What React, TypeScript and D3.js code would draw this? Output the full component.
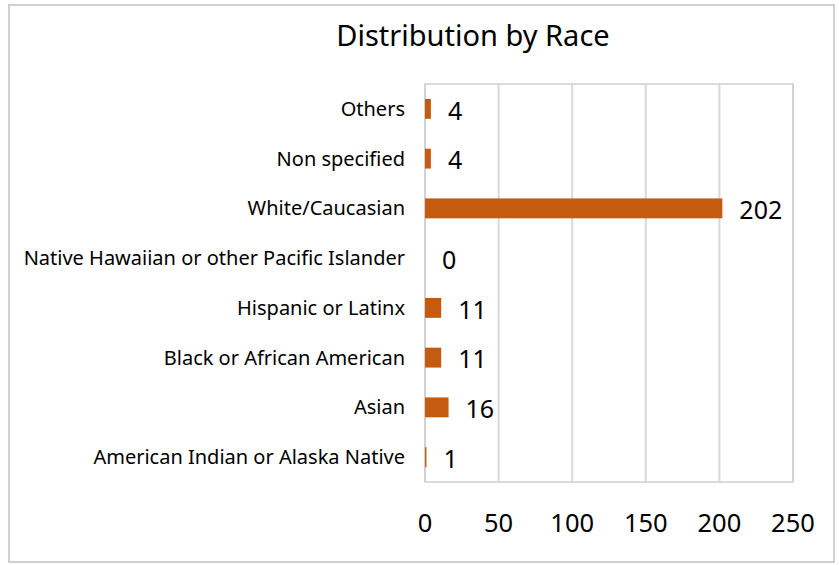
import React from 'react';
import * as d3 from 'd3';

const categories = [
  'Others',
  'Non specified',
  'White/Caucasian',
  'Native Hawaiian or other Pacific Islander',
  'Hispanic or Latinx',
  'Black or African American',
  'Asian',
  'American Indian or Alaska Native',
];
const counts = [4, 4, 202, 0, 11, 11, 16, 1];
const xTicks = [0, 50, 100, 150, 200, 250];

const W = 839;
const H = 565;
const font = "'Noto Sans', 'Open Sans', sans-serif";

export default function App() {
  const x = d3.scaleLinear().domain([0, 250]).range([425, 793]);
  const y = d3.scaleBand<string>().domain(categories).range([84, 482]).paddingInner(0.6).paddingOuter(0.3);
  const bw = y.bandwidth();

  return (
    <svg width={W} height={H} style={{ position: 'absolute', left: 0, top: 0, background: '#fff' }}>
      <rect x={9} y={5} width={825} height={557} fill="#fff" stroke="#d0d0d0" strokeWidth={2} />
      <text x={473} y={46} textAnchor="middle" fontFamily={font} fontSize={29} fill="#000">
        Distribution by Race
      </text>
      {xTicks.map(t => (
        <line key={t} x1={x(t)} x2={x(t)} y1={84} y2={482} stroke="#d9d9d9" strokeWidth={2} />
      ))}
      {/* plot area frame */}
      <rect x={x(0)} y={84} width={x(250) - x(0)} height={398} fill="none" stroke="#d0d0d0" strokeWidth={1.5} />
      {xTicks.map(t => (
        <text key={'t' + t} x={x(t)} y={532} textAnchor="middle" fontFamily={font} fontSize={25.5} fill="#000">
          {t}
        </text>
      ))}
      {categories.map((c, i) => {
        const yy = y(c)!;
        const v = counts[i];
        return (
          <g key={c}>
            <text x={405} y={yy + bw / 2} dy="0.35em" textAnchor="end" fontFamily={font} fontSize={20} fill="#000">
              {c}
            </text>
            {v > 0 && (
              <rect x={x(0)} y={yy} width={x(v) - x(0)} height={bw} fill="#C55A11" />
            )}
            <text x={x(v) + 17} y={yy + bw / 2 + 2} dy="0.35em" fontFamily={font} fontSize={25} fill="#000">
              {v}
            </text>
          </g>
        );
      })}
    </svg>
  );
}
